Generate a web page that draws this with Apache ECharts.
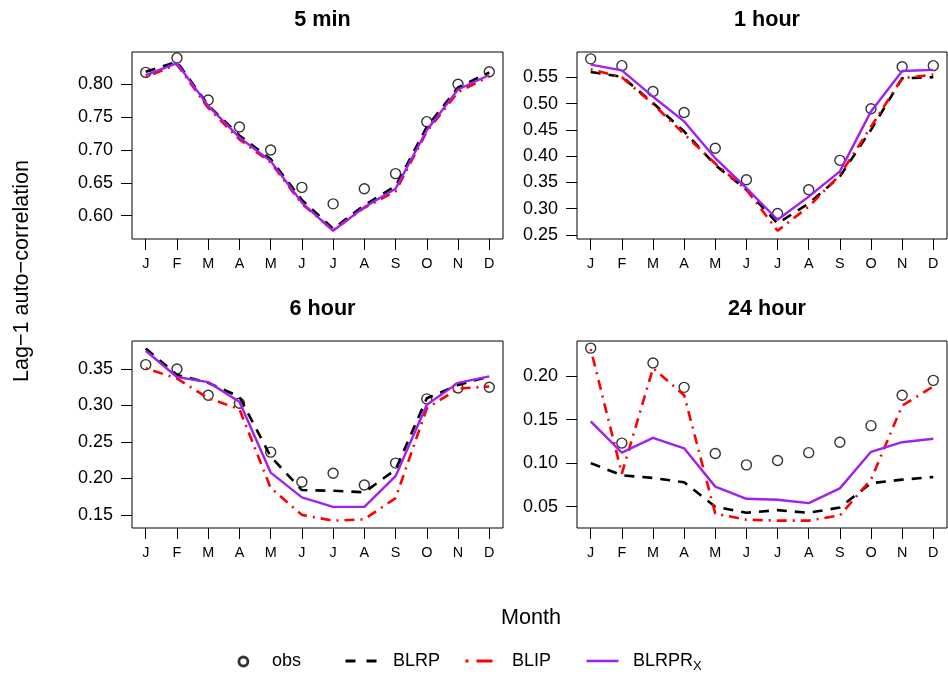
<!DOCTYPE html>
<html>
<head>
<meta charset="utf-8">
<script src="https://cdn.jsdelivr.net/npm/echarts@6/dist/echarts.min.js"></script>
<style>html,body{margin:0;padding:0;background:#fff}#chart{width:948px;height:675px}</style>
</head>
<body>
<div id="chart"></div>
<script>
const months = ['J','F','M','A','M','J','J','A','S','O','N','D'];
const panelTitles = ['5 min', '1 hour', '6 hour', '24 hour'];
const seriesNames = ['obs', 'BLRP', 'BLIP', 'BLRPRX'];

const obs5min    = [0.818, 0.840, 0.776, 0.735, 0.700, 0.643, 0.618, 0.641, 0.664, 0.743, 0.800, 0.819];
const blrp5min   = [0.819, 0.834, 0.768, 0.722, 0.686, 0.624, 0.580, 0.616, 0.645, 0.735, 0.795, 0.818];
const blip5min   = [0.811, 0.830, 0.764, 0.716, 0.681, 0.618, 0.578, 0.612, 0.637, 0.728, 0.788, 0.812];
const blrprx5min = [0.814, 0.832, 0.767, 0.719, 0.683, 0.620, 0.577, 0.613, 0.641, 0.730, 0.792, 0.814];

const obs1h    = [0.585, 0.572, 0.523, 0.483, 0.415, 0.355, 0.291, 0.336, 0.392, 0.490, 0.570, 0.572];
const blrp1h   = [0.560, 0.551, 0.501, 0.447, 0.383, 0.336, 0.272, 0.310, 0.361, 0.450, 0.548, 0.550];
const blip1h   = [0.565, 0.550, 0.499, 0.442, 0.386, 0.336, 0.258, 0.304, 0.364, 0.456, 0.548, 0.555];
const blrprx1h = [0.574, 0.563, 0.513, 0.466, 0.396, 0.339, 0.279, 0.323, 0.371, 0.485, 0.562, 0.564];

const obs6h    = [0.356, 0.350, 0.314, 0.303, 0.236, 0.195, 0.207, 0.191, 0.221, 0.309, 0.324, 0.325];
const blrp6h   = [0.378, 0.342, 0.331, 0.312, 0.230, 0.184, 0.183, 0.181, 0.212, 0.310, 0.328, 0.340];
const blip6h   = [0.351, 0.337, 0.310, 0.295, 0.187, 0.150, 0.142, 0.144, 0.173, 0.296, 0.323, 0.326];
const blrprx6h = [0.375, 0.339, 0.332, 0.305, 0.208, 0.174, 0.161, 0.161, 0.203, 0.301, 0.331, 0.340];

const obs24h    = [0.232, 0.123, 0.215, 0.187, 0.111, 0.098, 0.103, 0.112, 0.124, 0.143, 0.178, 0.195];
const blrp24h   = [0.100, 0.086, 0.083, 0.078, 0.050, 0.043, 0.046, 0.043, 0.049, 0.077, 0.081, 0.084];
const blip24h   = [0.231, 0.088, 0.209, 0.178, 0.042, 0.035, 0.034, 0.034, 0.040, 0.081, 0.166, 0.188];
const blrprx24h = [0.148, 0.112, 0.129, 0.117, 0.073, 0.059, 0.058, 0.054, 0.071, 0.113, 0.124, 0.128];

const yTicks5min = [0.60, 0.65, 0.70, 0.75, 0.80];
const yTicks1h   = [0.25, 0.30, 0.35, 0.40, 0.45, 0.50, 0.55];
const yTicks6h   = [0.15, 0.20, 0.25, 0.30, 0.35];
const yTicks24h  = [0.05, 0.10, 0.15, 0.20];

const panels = [
  {obs: obs5min, blrp: blrp5min, blip: blip5min, blrprx: blrprx5min, ticks: yTicks5min},
  {obs: obs1h, blrp: blrp1h, blip: blip1h, blrprx: blrprx1h, ticks: yTicks1h},
  {obs: obs6h, blrp: blrp6h, blip: blip6h, blrprx: blrprx6h, ticks: yTicks6h},
  {obs: obs24h, blrp: blrp24h, blip: blip24h, blrprx: blrprx24h, ticks: yTicks24h}
];

// layout (pixels) and axis ranges
const gridPos = [
  {left: 132, top: 52, width: 371, height: 187},
  {left: 577, top: 52, width: 370, height: 187},
  {left: 132, top: 341, width: 371, height: 187},
  {left: 577, top: 341, width: 370, height: 187}
];
const yRanges = [[0.5645, 0.849], [0.2424, 0.598], [0.132, 0.3884], [0.0255, 0.2402]];

const FONT = "'Liberation Sans', Arial, Helvetica, sans-serif";
const monthIdx = months.map((m, i) => i + 1);
const pairs = arr => arr.map((v, i) => [i + 1, v]);

const grids = [], xAxes = [], yAxes = [], series = [], titles = [];
panels.forEach((p, k) => {
  const g = gridPos[k];
  grids.push({left: g.left, top: g.top, width: g.width, height: g.height, show: true,
    borderColor: '#000', borderWidth: 1, backgroundColor: 'transparent', containLabel: false});
  xAxes.push({type: 'value', gridIndex: k, min: 0.56, max: 12.44,
    axisLine: {show: false}, splitLine: {show: false},
    axisTick: {show: true, customValues: monthIdx, length: 11, lineStyle: {color: '#000', width: 1}},
    axisLabel: {show: true, customValues: monthIdx, margin: 18, fontSize: 14.4, color: '#000', fontFamily: FONT,
      formatter: v => months[Math.round(v) - 1]}
  });
  yAxes.push({type: 'value', gridIndex: k, min: yRanges[k][0], max: yRanges[k][1],
    axisLine: {show: false}, splitLine: {show: false},
    axisTick: {show: true, customValues: p.ticks, length: 11, lineStyle: {color: '#000', width: 1}},
    axisLabel: {show: true, customValues: p.ticks, margin: 19, fontSize: 18, color: '#000', fontFamily: FONT,
      formatter: v => v.toFixed(2)}
  });
  titles.push({text: panelTitles[k], left: g.left + g.width / 2, top: 4, textAlign: 'center',
    textStyle: {fontSize: 21.6, fontWeight: 'bold', color: '#000', fontFamily: FONT}});
  if (k >= 2) titles[k].top = 293;
  series.push({name: 'obs', type: 'scatter', xAxisIndex: k, yAxisIndex: k, data: pairs(p.obs),
    symbol: 'circle', symbolSize: 10, z: 2,
    itemStyle: {color: 'rgba(255,255,255,0)', borderColor: '#000', borderWidth: 1.4}});
  series.push({name: 'BLRP', type: 'line', xAxisIndex: k, yAxisIndex: k, data: pairs(p.blrp),
    symbol: 'none', z: 3, lineStyle: {color: '#000', width: 2.6, type: [10, 8]}, itemStyle: {color: '#000'}});
  series.push({name: 'BLIP', type: 'line', xAxisIndex: k, yAxisIndex: k, data: pairs(p.blip),
    symbol: 'none', z: 4, lineStyle: {color: '#ff0000', width: 2.6, type: [2, 6, 10, 6]}, itemStyle: {color: '#ff0000'}});
  series.push({name: 'BLRPRX', type: 'line', xAxisIndex: k, yAxisIndex: k, data: pairs(p.blrprx),
    symbol: 'none', z: 5, lineStyle: {color: '#a020f0', width: 2.4, type: 'solid'}, itemStyle: {color: '#a020f0'}});
});

const legTxt = {fontSize: 18, color: '#000', fontFamily: FONT};
const legends = [
  {data: [{name: 'obs', icon: 'circle', itemStyle: {color: 'rgba(255,255,255,0)', borderColor: '#000', borderWidth: 2.8}}],
   left: 237.5, top: 652.5, padding: 0, itemWidth: 9, itemHeight: 9, selectedMode: false,
   textStyle: Object.assign({padding: [0, 0, 0, 19]}, legTxt)},
  {data: [{name: 'BLRP', icon: 'path://M0,0v14h0zM0,5.5h10v3h-10zM21,5.5h10v3h-10z', itemStyle: {color: '#000'}}],
   left: 345.5, top: 652, padding: 0, itemWidth: 31, itemHeight: 14, selectedMode: false,
   textStyle: Object.assign({padding: [0, 0, 0, 11.5]}, legTxt)},
  {data: [{name: 'BLIP', icon: 'path://M0,0v14h0zM0,5.5h3v3h-3zM11,5.5h16v3h-16z', itemStyle: {color: '#ff0000'}}],
   left: 465.5, top: 652, padding: 0, itemWidth: 27, itemHeight: 14, selectedMode: false,
   textStyle: Object.assign({padding: [0, 0, 0, 14.5]}, legTxt)},
  {data: [{name: 'BLRPRX', icon: 'path://M0,0v14h0zM0,5.8h32v2.4h-32z', itemStyle: {color: '#a020f0'}}],
   left: 586.5, top: 652, padding: 0, itemWidth: 32, itemHeight: 14, selectedMode: false,
   formatter: () => '{a|BLRPR}{s|X}',
   textStyle: Object.assign({padding: [0, 0, 0, 9.5],
     rich: {a: {fontSize: 18, fontFamily: FONT, color: '#000'},
            s: {fontSize: 13, fontFamily: FONT, color: '#000', padding: [10, 0, 0, 0]}}}, legTxt)}
];

const chart = echarts.init(document.getElementById('chart'), null, {renderer: 'canvas'});
chart.setOption({
  animation: false,
  backgroundColor: '#fff',
  title: titles,
  grid: grids,
  xAxis: xAxes,
  yAxis: yAxes,
  legend: legends,
  series: series,
  graphic: [
    {type: 'text', x: 22, y: 271, rotation: Math.PI / 2,
     style: {text: 'Lag\u22121 auto\u2212correlation', fontSize: 21.6, fontFamily: FONT, fill: '#000',
             align: 'center', verticalAlign: 'middle'}},
    {type: 'text', x: 531, y: 618,
     style: {text: 'Month', fontSize: 21.6, fontFamily: FONT, fill: '#000', align: 'center', verticalAlign: 'middle'}}
  ]
});
</script>
</body>
</html>
